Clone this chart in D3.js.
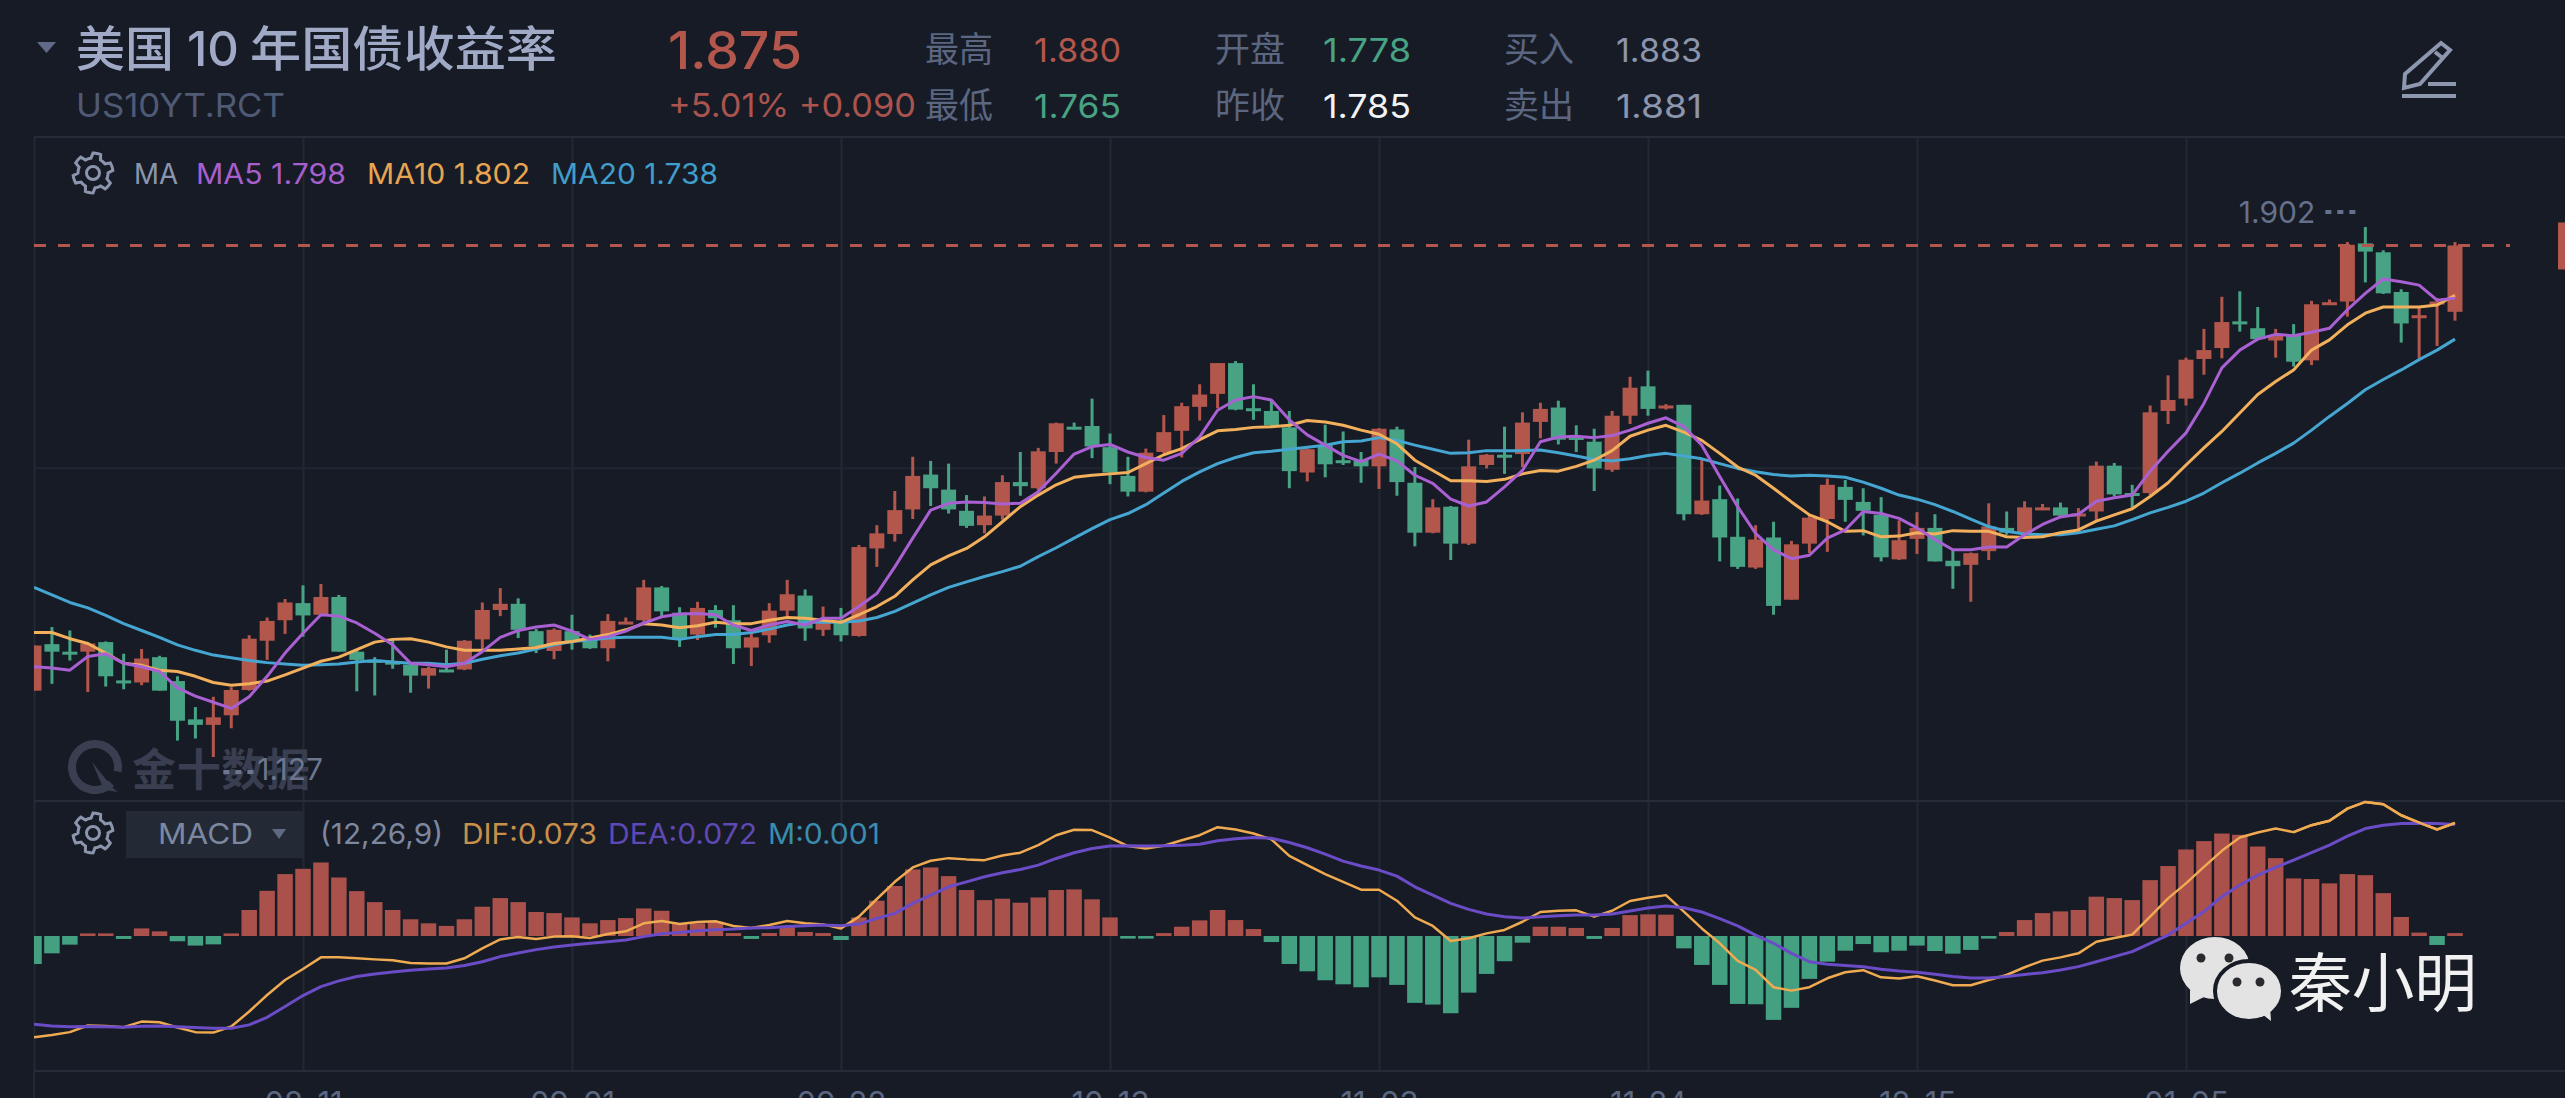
<!DOCTYPE html>
<html>
<head>
<meta charset="utf-8">
<script src="https://d3js.org/d3.v7.min.js"></script>
<style>
  html, body { margin: 0; padding: 0; background: #171b25; overflow: hidden; }
  svg { display: block; }
  text { font-family: Inter, "Noto Sans CJK SC", sans-serif; }
  .cjk { font-family: "Noto Sans CJK SC", sans-serif; }
</style>
</head>
<body>
<div id="chart"></div>
<script>
// daily candles
const open = [1.224,1.292,1.281,1.281,1.295,1.239,1.236,1.273,1.238,1.182,1.174,1.188,1.225,1.297,1.327,1.352,1.335,1.361,1.281,1.269,1.267,1.262,1.246,1.255,1.255,1.299,1.342,1.351,1.311,1.282,1.311,1.302,1.286,1.322,1.327,
  1.375,1.338,1.306,1.342,1.327,1.287,1.305,1.341,1.363,1.313,1.325,1.304,1.432,1.453,1.489,1.540,1.518,1.487,1.466,1.480,1.529,1.520,1.573,1.610,1.611,1.580,1.538,1.515,1.573,1.604,1.639,1.658,1.703,1.637,1.633,1.609,
  1.543,1.583,1.561,1.561,1.552,1.606,1.528,1.455,1.493,1.439,1.554,1.569,1.570,1.617,1.638,1.595,1.588,1.547,1.626,1.669,1.639,1.642,1.482,1.504,1.449,1.404,1.448,1.357,1.439,1.475,1.522,1.500,1.481,1.416,
  1.446,1.462,1.414,1.408,1.428,1.462,1.455,1.489,1.492,1.480,1.486,1.553,1.513,1.513,1.633,1.651,1.709,1.725,1.764,1.754,1.736,1.744,1.707,1.789,1.793,1.878,1.865,1.807,1.771,1.791,1.778];
const high = [1.290,1.317,1.312,1.295,1.296,1.278,1.285,1.275,1.245,1.200,1.215,1.229,1.305,1.331,1.358,1.378,1.380,1.364,1.285,1.273,1.298,1.265,1.259,1.284,1.298,1.353,1.374,1.359,1.314,1.315,1.335,1.306,1.336,1.331,1.386,
  1.377,1.346,1.354,1.349,1.349,1.313,1.352,1.386,1.372,1.347,1.345,1.437,1.466,1.516,1.566,1.560,1.556,1.510,1.508,1.539,1.573,1.579,1.616,1.616,1.651,1.600,1.566,1.578,1.627,1.645,1.672,1.703,1.706,1.672,1.649,1.633,
  1.578,1.613,1.603,1.573,1.608,1.610,1.551,1.504,1.494,1.591,1.570,1.610,1.631,1.645,1.648,1.612,1.607,1.633,1.683,1.692,1.643,1.642,1.563,1.524,1.505,1.466,1.471,1.443,1.481,1.534,1.532,1.520,1.507,1.473,
  1.485,1.482,1.430,1.426,1.498,1.486,1.501,1.497,1.499,1.491,1.559,1.557,1.525,1.641,1.685,1.711,1.753,1.800,1.808,1.785,1.753,1.760,1.794,1.796,1.880,1.902,1.868,1.811,1.785,1.798,1.880];
const low = [1.224,1.234,1.268,1.222,1.230,1.226,1.232,1.224,1.151,1.154,1.127,1.169,1.224,1.269,1.307,1.303,1.333,1.281,1.223,1.217,1.256,1.221,1.227,1.251,1.254,1.284,1.333,1.301,1.279,1.270,1.284,1.285,1.267,1.322,1.325,
  1.332,1.288,1.298,1.316,1.263,1.260,1.294,1.332,1.297,1.304,1.296,1.303,1.405,1.442,1.475,1.494,1.483,1.462,1.454,1.474,1.509,1.517,1.556,1.606,1.564,1.526,1.508,1.514,1.571,1.565,1.619,1.637,1.634,1.620,1.610,1.520,
  1.530,1.536,1.554,1.528,1.519,1.509,1.435,1.454,1.415,1.437,1.549,1.541,1.551,1.593,1.584,1.573,1.516,1.544,1.614,1.626,1.635,1.473,1.481,1.413,1.402,1.402,1.335,1.357,1.425,1.427,1.471,1.451,1.413,1.415,
  1.424,1.413,1.373,1.354,1.415,1.452,1.452,1.488,1.479,1.459,1.472,1.508,1.492,1.510,1.614,1.641,1.686,1.710,1.749,1.737,1.711,1.698,1.700,1.788,1.771,1.821,1.804,1.733,1.710,1.728,1.765];
const close = [1.290,1.281,1.279,1.293,1.245,1.235,1.271,1.224,1.180,1.174,1.185,1.225,1.300,1.326,1.353,1.334,1.361,1.281,1.269,1.266,1.262,1.246,1.257,1.251,1.297,1.342,1.351,1.313,1.289,1.313,1.296,1.286,1.326,1.325,1.375,
  1.340,1.301,1.345,1.330,1.286,1.302,1.341,1.365,1.315,1.327,1.305,1.434,1.454,1.488,1.538,1.520,1.489,1.465,1.480,1.529,1.523,1.574,1.615,1.607,1.581,1.543,1.515,1.572,1.602,1.640,1.657,1.703,1.635,1.634,1.612,1.545,
  1.577,1.555,1.557,1.552,1.607,1.529,1.455,1.492,1.439,1.552,1.569,1.566,1.616,1.636,1.591,1.593,1.549,1.626,1.667,1.636,1.641,1.482,1.502,1.448,1.405,1.445,1.348,1.438,1.477,1.525,1.503,1.487,1.419,1.444,
  1.462,1.413,1.406,1.425,1.464,1.455,1.492,1.492,1.480,1.483,1.553,1.511,1.510,1.631,1.649,1.708,1.722,1.763,1.762,1.738,1.744,1.705,1.789,1.792,1.876,1.866,1.805,1.761,1.773,1.793,1.875];

const ma5 = [1.259,1.257,1.254,1.274,1.278,1.264,1.259,1.252,1.228,1.216,1.207,1.198,1.215,1.245,1.279,1.308,1.335,1.333,1.323,1.308,1.291,1.264,1.262,1.259,1.264,1.281,1.302,1.312,1.317,1.320,1.311,1.299,1.303,1.311,1.323,
  1.332,1.336,1.337,1.335,1.320,1.312,1.320,1.325,1.320,1.330,1.330,1.347,1.366,1.405,1.447,1.488,1.498,1.500,1.499,1.497,1.498,1.515,1.542,1.570,1.581,1.584,1.573,1.565,1.561,1.571,1.595,1.634,1.649,1.654,1.649,
  1.620,1.598,1.583,1.568,1.559,1.570,1.560,1.539,1.527,1.504,1.494,1.500,1.522,1.546,1.588,1.595,1.596,1.594,1.597,1.605,1.615,1.623,1.610,1.583,1.537,1.493,1.454,1.430,1.417,1.422,1.447,1.459,1.486,1.483,1.476,
  1.462,1.445,1.430,1.430,1.434,1.434,1.452,1.467,1.478,1.482,1.501,1.506,1.510,1.545,1.574,1.601,1.644,1.696,1.722,1.738,1.745,1.743,1.748,1.754,1.781,1.805,1.826,1.822,1.817,1.795,1.798];
const ma10 = [1.309,1.309,1.300,1.293,1.279,1.264,1.261,1.254,1.252,1.245,1.236,1.232,1.234,1.238,1.247,1.257,1.267,1.273,1.284,1.295,1.299,1.300,1.295,1.288,1.283,1.283,1.283,1.285,1.287,1.293,1.296,1.301,1.306,1.313,1.322,
  1.320,1.316,1.319,1.324,1.322,1.322,1.327,1.331,1.330,1.327,1.324,1.335,1.347,1.362,1.386,1.408,1.421,1.432,1.449,1.471,1.493,1.510,1.525,1.536,1.539,1.541,1.543,1.556,1.569,1.578,1.591,1.604,1.606,1.609,1.610,
  1.612,1.619,1.617,1.612,1.605,1.599,1.585,1.561,1.546,1.531,1.531,1.530,1.533,1.541,1.546,1.545,1.552,1.561,1.575,1.596,1.605,1.612,1.602,1.590,1.571,1.551,1.539,1.520,1.500,1.481,1.471,1.457,1.458,1.449,1.450,
  1.455,1.453,1.458,1.457,1.457,1.449,1.448,1.449,1.455,1.459,1.472,1.481,1.490,1.508,1.528,1.554,1.579,1.603,1.630,1.657,1.676,1.693,1.722,1.737,1.759,1.776,1.785,1.785,1.785,1.788,1.802];
const ma20 = [1.375,1.364,1.353,1.345,1.334,1.322,1.312,1.302,1.291,1.283,1.276,1.272,1.268,1.265,1.263,1.261,1.262,1.263,1.266,1.268,1.266,1.264,1.264,1.262,1.264,1.270,1.275,1.279,1.285,1.291,1.296,1.298,1.301,1.302,1.302,
  1.302,1.299,1.303,1.306,1.306,1.309,1.314,1.320,1.324,1.324,1.324,1.326,1.331,1.340,1.352,1.364,1.375,1.383,1.391,1.398,1.406,1.420,1.433,1.447,1.461,1.474,1.483,1.496,1.513,1.530,1.544,1.556,1.565,1.572,1.574,
  1.577,1.580,1.583,1.588,1.589,1.594,1.590,1.583,1.577,1.571,1.572,1.575,1.575,1.575,1.576,1.572,1.567,1.562,1.560,1.563,1.568,1.571,1.567,1.563,1.556,1.549,1.544,1.540,1.538,1.539,1.538,1.536,1.529,1.520,1.510,
  1.504,1.496,1.486,1.475,1.464,1.457,1.453,1.452,1.452,1.455,1.460,1.465,1.474,1.484,1.492,1.501,1.513,1.528,1.542,1.557,1.571,1.586,1.605,1.625,1.644,1.664,1.679,1.693,1.708,1.722,1.738];

const macdBar = [-.0181,-.0112,-.0056,.0017,.0017,-.0019,.0049,.0030,-.0034,-.0062,-.0054,.0017,.0168,.0292,.0400,.0434,.0475,.0378,.0290,.0219,.0168,.0108,.0082,.0065,.0108,.0189,.0245,.0219,.0155,.0148,.0120,.0082,.0103,.0116,.0178,.0163,.0077,.0082,.0092,.0019,-.0019,.0019,.0060,.0026,.0019,-.0026,
  .0120,.0228,.0323,.0430,.0443,.0387,.0297,.0232,.0241,.0215,.0249,.0297,.0301,.0237,.0120,-.0017,-.0017,.0019,.0060,.0101,.0168,.0103,.0045,-.0039,-.0181,-.0228,-.0286,-.0312,-.0331,-.0267,-.0316,-.0432,-.0443,-.0499,-.0366,-.0245,-.0163,-.0043,.0060,.0060,.0052,-.0019,.0052,.0135,.0140,.0138,-.0080,-.0187,-.0316,-.0439,-.0441,-.0542,-.0464,-.0277,
  -.0166,-.0095,-.0052,-.0105,-.0095,-.0062,-.0097,-.0114,-.0090,-.0017,.0026,.0103,.0148,.0159,.0168,.0254,.0245,.0232,.0361,.0452,.0559,.0613,.0662,.0654,.0578,.0503,.0372,.0368,.0340,.0400,.0393,.0277,.0123,.0022,-.0058,.0019];
const dif = [-.0654,-.0639,-.0621,-.0578,-.0581,-.0589,-.0553,-.0557,-.0591,-.0621,-.0624,-.0585,-.0488,-.0381,-.0284,-.0213,-.0138,-.0138,-.0144,-.0151,-.0157,-.0174,-.0178,-.0178,-.0144,-.0080,-.0022,-.0006,-.0019,-.0004,-.0002,-.0013,.0013,.0030,.0082,.0097,.0077,.0090,.0095,.0065,.0052,.0071,.0097,.0082,.0075,.0049,
  .0125,.0239,.0350,.0443,.0486,.0503,.0495,.0490,.0520,.0538,.0587,.0651,.0686,.0684,.0636,.0581,.0565,.0583,.0619,.0651,.0703,.0688,.0662,.0624,.0518,.0458,.0400,.0350,.0299,.0299,.0228,.0120,.0065,-.0032,-.0015,.0017,.0039,.0092,.0155,.0163,.0166,.0125,.0163,.0226,.0247,.0264,.0157,.0049,-.0047,-.0161,
  -.0219,-.0331,-.0353,-.0331,-.0273,-.0234,-.0221,-.0267,-.0275,-.0260,-.0288,-.0318,-.0318,-.0284,-.0252,-.0202,-.0159,-.0138,-.0112,-.0037,-.0013,.0009,.0125,.0243,.0340,.0447,.0550,.0636,.0669,.0694,.0671,.0716,.0744,.0823,.0866,.0851,.0780,.0733,.0688,.0730];
const dea = [-.0570,-.0581,-.0587,-.0585,-.0587,-.0589,-.0583,-.0581,-.0587,-.0591,-.0596,-.0596,-.0574,-.0525,-.0456,-.0385,-.0327,-.0290,-.0262,-.0245,-.0232,-.0221,-.0213,-.0206,-.0191,-.0166,-.0133,-.0110,-.0088,-.0071,-.0058,-.0047,-.0037,-.0026,-.0004,.0015,.0022,.0034,.0041,.0045,.0052,.0054,.0062,.0067,.0071,.0067,
  .0077,.0114,.0146,.0211,.0264,.0318,.0350,.0383,.0409,.0430,.0458,.0501,.0538,.0565,.0581,.0583,.0581,.0583,.0587,.0593,.0615,.0628,.0636,.0632,.0604,.0570,.0529,.0484,.0452,.0426,.0387,.0318,.0264,.0211,.0172,.0142,.0125,.0116,.0125,.0131,.0135,.0135,.0142,.0161,.0181,.0194,.0183,.0155,.0112,.0065,
  .0006,-.0047,-.0112,-.0166,-.0183,-.0191,-.0198,-.0215,-.0226,-.0234,-.0247,-.0262,-.0271,-.0271,-.0262,-.0249,-.0237,-.0219,-.0198,-.0166,-.0133,-.0101,-.0047,.0006,.0082,.0157,.0254,.0329,.0393,.0443,.0490,.0538,.0587,.0645,.0694,.0716,.0727,.0729,.0727,.0720];

const dateLabels = ["08-11", "09-01", "09-22", "10-13", "11-03", "11-24", "12-15", "01-05"];
const dateTicks = [15, 30, 45, 60, 75, 90, 105, 120];
const priceGrid = [1.55];

const width = 2565, height = 1098;
const up = "#b3574c", down = "#47a384", upBar = "#a9514a", downBar = "#43a081";
const muted = "#5b6681", soft = "#8b95ad";

const x = d3.scaleLinear().domain([0, 135]).range([34, 2455]);
const y = d3.scaleLinear().domain([1.127, 1.902]).range([757, 227]);
const yMacd = d3.scaleLinear().domain([0, 0.073]).range([936, 823]);

const svg = d3.select("#chart").append("svg")
  .attr("width", width).attr("height", height)
  .style("background", "#171b25");

svg.append("clipPath").attr("id", "plot")
  .append("rect").attr("x", 34).attr("y", 137).attr("width", width - 34).attr("height", 934);

// grid, built from the same axes as the marks
const grid = svg.append("g");
grid.append("g").attr("transform", "translate(0,1071)")
  .call(d3.axisBottom(x).tickValues([0, ...dateTicks, 135 + 0].slice(0, 9)).tickSize(934).tickFormat(""))
  .call(g => g.attr("transform", "translate(0,137)"))
  .call(g => g.select(".domain").remove())
  .call(g => g.selectAll("line").attr("stroke", "#232835").attr("stroke-width", 2));
grid.append("g")
  .call(d3.axisLeft(y).tickValues(priceGrid).tickSize(-(width - 34)).tickFormat(""))
  .attr("transform", "translate(34,0)")
  .call(g => g.select(".domain").remove())
  .call(g => g.selectAll("line").attr("stroke", "#212633").attr("stroke-width", 2));
[137, 801, 1071].forEach(v => {
  grid.append("line").attr("x1", 34).attr("x2", width).attr("y1", v).attr("y2", v)
    .attr("stroke", "#262b38").attr("stroke-width", 2);
});
grid.append("line").attr("x1", 34).attr("x2", 34).attr("y1", 1071).attr("y2", height)
  .attr("stroke", "#232835").attr("stroke-width", 2);

// date labels, only their top shows above the page edge
const axisDates = svg.append("g").attr("transform", "translate(0,1071)")
  .call(d3.axisBottom(x).tickValues(dateTicks).tickSize(0).tickPadding(0)
    .tickFormat((d, i) => dateLabels[i]));
axisDates.select(".domain").remove();
axisDates.selectAll("text")
  .attr("fill", muted).attr("font-size", 31)
  .attr("dy", 0).attr("y", 43)
  .style("font-family", "Inter");

// watermark
const mark = svg.append("g").attr("fill", "#393f50");
mark.append("path")
  .attr("d", d3.arc().innerRadius(19).outerRadius(27).startAngle(0.25 * Math.PI + Math.PI / 2).endAngle(2.5 * Math.PI + 0.2)())
  .attr("transform", "translate(95,767)");
mark.append("path").attr("d", "M92 762 L113 788 L118 792 L104 790 Z");
mark.append("text").attr("class", "cjk").attr("x", 132).attr("y", 786)
  .attr("font-size", 44).attr("font-weight", 700).attr("textLength", 178).text("金十数据");

// candles
const index = d3.range(close.length);
const bodyW = 15;
const plot = svg.append("g").attr("clip-path", "url(#plot)");
const candle = plot.append("g").selectAll("g").data(index).join("g")
  .attr("fill", i => close[i] >= open[i] ? up : down)
  .attr("stroke", i => close[i] >= open[i] ? up : down);
candle.append("line")
  .attr("x1", i => x(i)).attr("x2", i => x(i))
  .attr("y1", i => y(high[i])).attr("y2", i => y(low[i]))
  .attr("stroke-width", 3);
candle.append("rect")
  .attr("stroke", "none")
  .attr("x", i => x(i) - bodyW / 2).attr("width", bodyW)
  .attr("y", i => y(Math.max(open[i], close[i])))
  .attr("height", i => Math.max(3, Math.abs(y(open[i]) - y(close[i]))));

// moving averages
const maLine = d3.line().x((d, i) => x(i)).y(d => y(d));
[[ma20, "#46a6d2"], [ma10, "#f3b05c"], [ma5, "#a960d2"]].forEach(([vals, color]) => {
  plot.append("path").attr("d", maLine(vals)).attr("fill", "none")
    .attr("stroke", color).attr("stroke-width", 3).attr("stroke-linejoin", "round");
});

// last price line and its tag
const last = close[close.length - 1];
svg.append("line").attr("x1", 34).attr("x2", 2510).attr("y1", y(last)).attr("y2", y(last))
  .attr("stroke", up).attr("stroke-width", 3).attr("stroke-dasharray", "12 12");
svg.append("rect").attr("x", 2558).attr("y", y(last) - 23).attr("width", 8).attr("height", 47).attr("fill", up);

// high / low notes
const hiAt = d3.maxIndex(high), loAt = d3.minIndex(low);
svg.append("text").attr("x", x(hiAt) - 50).attr("y", y(high[hiAt]) - 4).attr("text-anchor", "end")
  .attr("font-size", 30).attr("fill", "#64708c").text(d3.format(".3f")(high[hiAt]));
svg.append("line").attr("x1", x(hiAt) - 40).attr("x2", x(hiAt) - 10).attr("y1", y(high[hiAt]) - 15).attr("y2", y(high[hiAt]) - 15)
  .attr("stroke", "#64708c").attr("stroke-width", 4).attr("stroke-dasharray", "6 6");
svg.append("text").attr("x", x(loAt) + 44).attr("y", y(low[loAt]) + 23)
  .attr("font-size", 30).attr("fill", "#6c778f").text(d3.format(".3f")(low[loAt]));
svg.append("line").attr("x1", x(loAt) + 10).attr("x2", x(loAt) + 40).attr("y1", y(low[loAt]) + 15).attr("y2", y(low[loAt]) + 15)
  .attr("stroke", "#6c778f").attr("stroke-width", 4).attr("stroke-dasharray", "6 6");

// MACD panel
plot.append("g").selectAll("rect").data(index).join("rect")
  .attr("x", i => x(i) - 7.75).attr("width", 15.5)
  .attr("y", i => macdBar[i] >= 0 ? yMacd(macdBar[i]) : yMacd(0))
  .attr("height", i => Math.abs(yMacd(macdBar[i]) - yMacd(0)))
  .attr("fill", i => macdBar[i] >= 0 ? upBar : downBar);
const macdLine = d3.line().x((d, i) => x(i)).y(d => yMacd(d));
plot.append("path").attr("d", macdLine(dif)).attr("fill", "none")
  .attr("stroke", "#efaa52").attr("stroke-width", 2.5).attr("stroke-linejoin", "round");
plot.append("path").attr("d", macdLine(dea)).attr("fill", "none")
  .attr("stroke", "#6a4cc6").attr("stroke-width", 3).attr("stroke-linejoin", "round");
svg.append("path").attr("d", macdLine(dif.slice(-10)))
  .attr("transform", `translate(${x(126) - x(0)},0)`)
  .attr("fill", "none").attr("stroke", "#efaa52").attr("stroke-width", 2.5);

// gear icon
function gear(cx, cy) {
  const pts = d3.range(48).map(k => {
    const a = k / 48 * 2 * Math.PI;
    const tooth = (k % 8 < 4) ? 20 : 15;
    return [a, tooth];
  });
  const g = svg.append("g").attr("transform", `translate(${cx},${cy})`)
    .attr("fill", "none").attr("stroke", soft).attr("stroke-width", 3);
  g.append("path").attr("d", d3.lineRadial().curve(d3.curveLinearClosed)(pts));
  g.append("circle").attr("r", 6.5);
}
gear(93, 173);
gear(93, 833);

function label(txt, px, py, size, color, opts = {}) {
  const t = svg.append("text").attr("x", px).attr("y", py).attr("font-size", size)
    .attr("fill", color).text(txt);
  if (opts.weight) t.attr("font-weight", opts.weight);
  if (opts.len) t.attr("textLength", opts.len).attr("lengthAdjust", "spacingAndGlyphs");
  if (opts.cjk) t.attr("class", "cjk");
  return t;
}

// header
svg.append("path").attr("d", "M37 42 L56 42 L46.5 53 Z").attr("fill", "#5f6b86");
label("美国", 76, 66, 48, "#a0aac6", { weight: 500, cjk: true, len: 98 });
label("10", 187, 66, 48, "#a0aac6", { weight: 500, len: 52 });
label("年国债收益率", 250, 66, 48, "#a0aac6", { weight: 500, cjk: true, len: 307 });
label("US10YT.RCT", 76, 117, 33, "#4f5a75", { len: 209 });
label("1.875", 668, 69, 52, up, { weight: 500, len: 134 });
label("+5.01% +0.090", 668, 117, 33, "#a9544e", { len: 248 });
label("最高", 925, 62, 35, muted, { cjk: true, len: 68 });
label("最低", 925, 118, 35, muted, { cjk: true, len: 68 });
label("1.880", 1034, 62, 33, up, { len: 87 });
label("1.765", 1034, 118, 33, down, { len: 87 });
label("开盘", 1215, 62, 35, muted, { cjk: true, len: 70 });
label("昨收", 1215, 118, 35, muted, { cjk: true, len: 70 });
label("1.778", 1323, 62, 33, down, { len: 88 });
label("1.785", 1323, 118, 33, "#f2f3f5", { len: 88 });
label("买入", 1504, 62, 35, muted, { cjk: true, len: 70 });
label("卖出", 1504, 118, 35, muted, { cjk: true, len: 70 });
label("1.883", 1616, 62, 33, soft, { len: 86 });
label("1.881", 1616, 118, 33, soft, { len: 86 });

// pen icon
const pen = svg.append("g").attr("fill", "none").attr("stroke", "#8d97b0").attr("stroke-width", 4);
pen.append("path").attr("d", "M2441 43 L2450 50 L2420 84 L2404 88 L2405 74 Z");
pen.append("path").attr("d", "M2435 52 L2444 59");
pen.append("path").attr("d", "M2428 84 L2456 84 M2402 96 L2456 96");

// MA legend
label("MA", 134, 184, 28, soft, { len: 44 });
label("MA5 1.798", 196, 184, 28, "#a75fcc", { len: 150 });
label("MA10 1.802", 367, 184, 28, "#e8a451", { len: 163 });
label("MA20 1.738", 551, 184, 28, "#3f9ecb", { len: 167 });

// MACD legend
svg.append("rect").attr("x", 126).attr("y", 811).attr("width", 177).attr("height", 47).attr("fill", "#232a36");
label("MACD", 158, 844, 29, "#7c87a0", { len: 95 });
svg.append("path").attr("d", "M272 829 L286 829 L279 839 Z").attr("fill", "#5f6a82");
label("(12,26,9)", 320, 844, 29, "#7c87a0", { len: 123 });
label("DIF:0.073", 462, 844, 29, "#c8904a", { len: 135 });
label("DEA:0.072", 608, 844, 29, "#5e49b4", { len: 149 });
label("M:0.001", 768, 844, 29, "#3b8cae", { len: 112 });

// channel watermark
const wc = svg.append("g");
wc.append("ellipse").attr("cx", 2215).attr("cy", 968).attr("rx", 35).attr("ry", 31).attr("fill", "#e3e3e3");
wc.append("path").attr("d", "M2190 990 L2190 1004 L2208 995 Z").attr("fill", "#e3e3e3");
wc.append("ellipse").attr("cx", 2249).attr("cy", 991).attr("rx", 34).attr("ry", 30)
  .attr("fill", "#e3e3e3").attr("stroke", "#171b25").attr("stroke-width", 4);
wc.append("path").attr("d", "M2262 1014 L2271 1021 L2270 1006 Z").attr("fill", "#e3e3e3");
[[2201, 958], [2229, 958], [2237, 982], [2260, 982]].forEach(p => {
  wc.append("circle").attr("cx", p[0]).attr("cy", p[1]).attr("r", 4.5).attr("fill", "#2b2b2f");
});
label("秦小明", 2289, 1006, 64, "#f1f1f1", { cjk: true, len: 188 });
</script>
</body>
</html>
